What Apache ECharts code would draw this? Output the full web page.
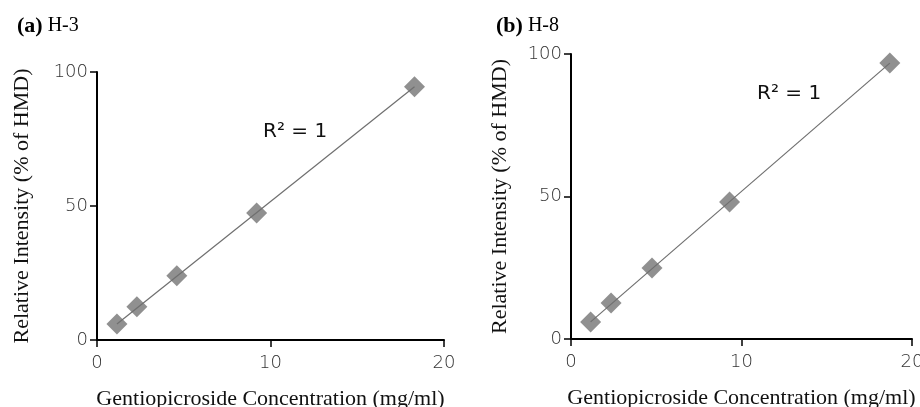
<!DOCTYPE html>
<html>
<head>
<meta charset="utf-8">
<script src="https://cdn.jsdelivr.net/npm/echarts@6/dist/echarts.min.js"></script>
<style>
  html, body { margin: 0; padding: 0; background: #fff; }
  #chart { width: 920px; height: 407px; }
</style>
</head>
<body>
<div id="chart"></div>
<script>
// panel (a) H-3
const concA = [1.15, 2.3, 4.6, 9.2, 18.3];
const intensityA = [6.0, 12.4, 24.0, 47.4, 94.5];
const trendA = [[1.15, 6.0], [18.3, 94.5]];

// panel (b) H-8
const concB = [1.15, 2.35, 4.75, 9.3, 18.7];
const intensityB = [6.0, 12.6, 24.9, 48.1, 96.8];
const trendB = [[1.15, 6.0], [18.7, 96.8]];

const serif = '"Liberation Serif", "DejaVu Serif", serif';
const sans = '"DejaVu Sans", "Liberation Sans", sans-serif';

const chart = echarts.init(document.getElementById('chart'));

function xAxisFor(gridIndex) {
    return {
        type: 'value', gridIndex: gridIndex, min: 0, max: 20, interval: 10,
        name: 'Gentiopicroside Concentration (mg/ml)',
        nameLocation: 'middle', nameGap: 48,
        nameTextStyle: { fontFamily: serif, fontSize: 22, color: '#111' },
        axisLine: { show: true, lineStyle: { color: '#000', width: 2 } },
        axisTick: { show: true, length: 7, lineStyle: { color: '#000', width: 1.5 } },
        axisLabel: { margin: 14, fontFamily: sans, fontSize: 18, fontWeight: 'lighter', color: '#333' },
        splitLine: { show: false }
    };
}

function yAxisFor(gridIndex, gap) {
    return {
        type: 'value', gridIndex: gridIndex, min: 0, max: 100, interval: 50,
        name: 'Relative Intensity (% of HMD)',
        nameLocation: 'middle', nameGap: gap,
        nameTextStyle: { fontFamily: serif, fontSize: 22, color: '#111' },
        axisLine: { show: true, lineStyle: { color: '#000', width: 2 } },
        axisTick: { show: true, length: 7, lineStyle: { color: '#000', width: 1.5 } },
        axisLabel: { margin: 9, fontFamily: sans, fontSize: 18, fontWeight: 'lighter', color: '#333' },
        splitLine: { show: false }
    };
}

function points(xs, ys) {
    return xs.map((x, i) => [x, ys[i]]);
}

function panelTitle(letter, name, left) {
    return {
        text: '{b|(' + letter + ')} {n|' + name + '}', left: left, top: 10,
        textStyle: { rich: {
            b: { fontFamily: serif, fontWeight: 'bold', fontSize: 22, color: '#000' },
            n: { fontFamily: serif, fontWeight: 'normal', fontSize: 20, color: '#000' }
        } }
    };
}

const option = {
    backgroundColor: '#fff',
    animation: false,
    title: [panelTitle('a', 'H-3', 12), panelTitle('b', 'H-8', 491)],
    graphic: [
        { type: 'text', left: 263, top: 122, style: { text: 'R² = 1', font: '20px ' + sans, fill: '#111' } },
        { type: 'text', left: 757, top: 84, style: { text: 'R² = 1', font: '20px ' + sans, fill: '#111' } }
    ],
    grid: [
        { left: 97, top: 72, width: 347, height: 268, outerBoundsMode: 'none' },
        { left: 571, top: 54, width: 341, height: 285, outerBoundsMode: 'none' }
    ],
    xAxis: [xAxisFor(0), xAxisFor(1)],
    yAxis: [yAxisFor(0, 64), yAxisFor(1, 60)],
    series: [
        {
            type: 'scatter', xAxisIndex: 0, yAxisIndex: 0,
            symbol: 'diamond', symbolSize: 21,
            itemStyle: { color: '#8a8a8a', opacity: 0.95 },
            data: points(concA, intensityA), z: 2
        },
        {
            type: 'line', xAxisIndex: 0, yAxisIndex: 0,
            showSymbol: false, symbol: 'none',
            lineStyle: { color: '#6f6f6f', width: 1.2 },
            data: trendA, z: 3
        },
        {
            type: 'scatter', xAxisIndex: 1, yAxisIndex: 1,
            symbol: 'diamond', symbolSize: 21,
            itemStyle: { color: '#8a8a8a', opacity: 0.95 },
            data: points(concB, intensityB), z: 2
        },
        {
            type: 'line', xAxisIndex: 1, yAxisIndex: 1,
            showSymbol: false, symbol: 'none',
            lineStyle: { color: '#6f6f6f', width: 1.2 },
            data: trendB, z: 3
        }
    ]
};

chart.setOption(option);

window.addEventListener('resize', () => {
    chart.resize();
});
</script>
</body>
</html>
